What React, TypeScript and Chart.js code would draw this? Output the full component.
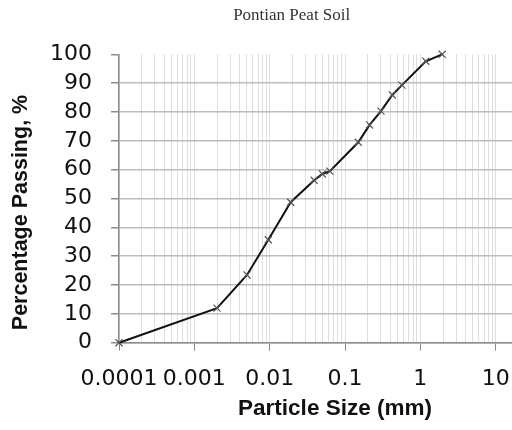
import React, { useEffect, useRef } from "react";
import { Chart, registerables } from "chart.js";

Chart.register(...registerables);

// ---- Data ----
const chartTitle = "Pontian Peat Soil";
const xAxisTitle = "Particle Size (mm)";
const yAxisTitle = "Percentage Passing, %";

const particleSizes = [0.0001, 0.002, 0.005, 0.0096, 0.019, 0.039, 0.05, 0.063, 0.15, 0.212, 0.3, 0.425, 0.57, 1.18, 1.95];
const percentPassing = [0, 12, 23.5, 35.7, 48.7, 56.3, 58.5, 59.5, 69.5, 75.5, 80.3, 85.9, 89.3, 97.6, 100];

const xDecades = [0.0001, 0.001, 0.01, 0.1, 1, 10];
const xTickLabels = ["0.0001", "0.001", "0.01", "0.1", "1", "10"];
const xMinorMultipliers = [2, 3, 4, 5, 6, 7, 8, 9];
const yTickValues = [0, 10, 20, 30, 40, 50, 60, 70, 80, 90, 100];

const X_MIN = 0.0001;
const X_MAX = 16.47;

const axisTitlePlugin = {
  id: "axisTitlesCustom",
  afterLayout(chart: any) {
    // centre the chart title the way the original figure does
    const t = chart.titleBlock;
    if (t) {
      t.left = 71.4;
      t.right = chart.width;
    }
  },
  afterDraw(chart: any) {
    const { ctx, chartArea } = chart;
    ctx.save();
    ctx.fillStyle = "#111111";
    ctx.textAlign = "center";
    ctx.textBaseline = "alphabetic";
    ctx.font = "bold 22.5px 'Liberation Sans', Arial, sans-serif";
    ctx.fillText(xAxisTitle, chartArea.left + 216, chartArea.bottom + 71.8);
    ctx.translate(chartArea.left - 92, chartArea.top + 158.2);
    ctx.rotate(-Math.PI / 2);
    ctx.font = "bold 21.5px 'Liberation Sans', Arial, sans-serif";
    ctx.fillText(yAxisTitle, 0, 0);
    ctx.restore();
  },
};

export default function App() {
  const canvasRef = useRef<HTMLCanvasElement | null>(null);

  useEffect(() => {
    if (!canvasRef.current) return;
    const gridValues: number[] = [];
    xDecades.forEach((d) => {
      gridValues.push(d);
      if (d < 10) xMinorMultipliers.forEach((m) => gridValues.push(d * m));
    });

    const chart = new Chart(canvasRef.current, {
      type: "line",
      data: {
        datasets: [
          {
            data: particleSizes.map((x, i) => ({ x, y: percentPassing[i] })),
            borderColor: "#111111",
            borderWidth: 2,
            tension: 0,
            pointStyle: "crossRot",
            pointRadius: 5,
            pointBorderColor: "#555555",
            pointBorderWidth: 1.2,
            pointBackgroundColor: "#555555",
            clip: false as any,
          },
        ],
      },
      options: {
        animation: false,
        responsive: false,
        layout: { autoPadding: false, padding: { left: 0, right: 0, top: 0, bottom: 0 } },
        plugins: {
          legend: { display: false },
          tooltip: { enabled: false },
          title: {
            display: true,
            text: chartTitle,
            color: "#333333",
            font: { family: "'Liberation Serif', 'Times New Roman', serif", size: 17, weight: "normal" },
            padding: { top: 5.5, bottom: 28.4 },
          },
        },
        scales: {
          x: {
            type: "logarithmic",
            min: X_MIN,
            max: X_MAX,
            afterBuildTicks: (scale: any) => {
              scale.ticks = gridValues.map((v) => ({ value: v }));
            },
            afterFit: (scale: any) => {
              scale.height = 87.3;
              scale.paddingRight = 0;
              scale.paddingLeft = 0;
            },
            ticks: {
              autoSkip: false,
              maxRotation: 0,
              minRotation: 0,
              padding: 15,
              color: "#111111",
              font: { family: "'DejaVu Sans', sans-serif", size: 22 },
              callback: (value: any) => {
                const idx = xDecades.indexOf(Number(value));
                return idx >= 0 ? xTickLabels[idx] : "";
              },
            },
            grid: {
              color: "#dedede",
              lineWidth: 1,
              tickLength: 8,
              tickColor: (ctx: any) =>
                ctx.tick && xDecades.indexOf(ctx.tick.value) >= 0 ? "#8c8c8c" : "rgba(0,0,0,0)",
            },
            border: { display: true, color: "#8c8c8c", width: 1.5 },
          },
          y: {
            type: "linear",
            min: 0,
            max: 100,
            afterBuildTicks: (scale: any) => {
              scale.ticks = yTickValues.map((v) => ({ value: v }));
            },
            afterFit: (scale: any) => {
              scale.width = 119;
            },
            ticks: {
              autoSkip: false,
              padding: 19,
              color: "#111111",
              font: { family: "'DejaVu Sans', sans-serif", size: 22 },
            },
            grid: {
              color: (ctx: any) => (ctx.tick && ctx.tick.value === 100 ? "rgba(0,0,0,0)" : "#bdbdbd"),
              lineWidth: 1.5,
              tickLength: 8,
              tickColor: "#8c8c8c",
            },
            border: { display: true, color: "#8c8c8c", width: 1.5 },
          },
        },
      },
      plugins: [axisTitlePlugin],
    } as any);

    return () => chart.destroy();
  }, []);

  return (
    <div style={{ position: "fixed", left: 0, top: 0, width: 512, height: 430, background: "#ffffff" }}>
      <canvas ref={canvasRef} width={512} height={430} style={{ display: "block" }} />
    </div>
  );
}
